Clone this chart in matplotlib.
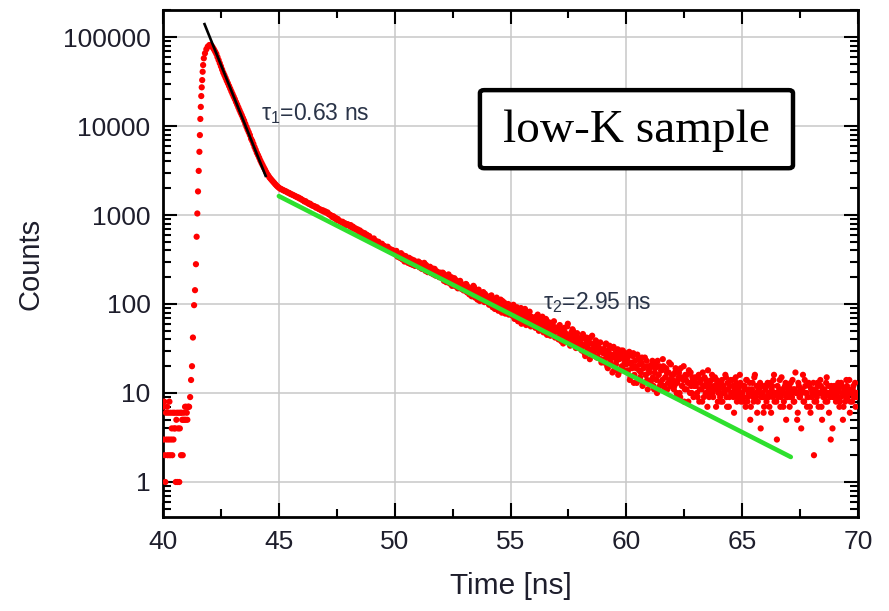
import numpy as np
import matplotlib
matplotlib.use("Agg")
import matplotlib.pyplot as plt
from matplotlib.patches import FancyBboxPatch
from matplotlib.ticker import LogLocator, MultipleLocator, NullFormatter, FixedLocator, FixedFormatter

# fonts: Arial-like sans for axes, Times-like serif for the sample box
plt.rcParams['font.family'] = ['Liberation Sans', 'DejaVu Sans']
plt.rcParams['mathtext.fontset'] = 'custom'
plt.rcParams['mathtext.rm'] = 'Liberation Sans'
plt.rcParams['mathtext.it'] = 'Liberation Sans'

# ---------------- data ----------------
# background before the laser pulse (counts are integers)
base_t = [40.000, 40.025, 40.050, 40.075, 40.100, 40.125, 40.150, 40.175, 40.200, 40.225,
          40.250, 40.275, 40.300, 40.325, 40.350, 40.375, 40.400, 40.425, 40.450, 40.475,
          40.500, 40.525, 40.550, 40.575, 40.600, 40.625, 40.650, 40.675, 40.700, 40.725,
          40.750, 40.775, 40.800, 40.825, 40.850, 40.875, 40.900, 40.925, 40.950, 40.975,
          41.000, 41.025, 41.050, 41.075, 41.100, 41.125]
base_counts = [7, 3, 8, 2, 1, 6, 3, 7, 2, 6,
               3, 8, 2, 6, 3, 4, 2, 6, 3, 4,
               6, 4, 1, 5, 6, 1, 4, 6, 1, 4,
               6, 2, 6, 5, 2, 5, 6, 5, 7, 5,
               7, 6, 5, 7, 7, 7]

# rising edge of the pulse
rise_t = [41.17, 41.21, 41.25, 41.29, 41.34, 41.38, 41.42, 41.45, 41.48, 41.51, 41.54, 41.57,
          41.59, 41.61, 41.63, 41.65, 41.67, 41.69, 41.71, 41.73, 41.76, 41.81, 41.87, 41.93]
rise_counts = [9, 14, 20, 42, 97, 143, 280, 570, 1040, 1840, 3130, 5130,
               7900, 12000, 16400, 21700, 27200, 32800, 40700, 48400, 57600, 65600, 72800, 78000]

# decay, one row per ns (42.00 ... 69.95 in 0.05 ns channels) + last channel at 70.00
channel_ns = 0.05
decay_start = 42.0
decay_counts = [
    81300, 80500, 79400, 76000, 72400, 68500, 64600, 59500, 55000, 50700, 46800, 43100, 39800, 37200, 34700, 32300, 30200, 28200, 26300, 24500,
    22900, 21400, 20000, 18600, 17400, 16200, 15100, 14100, 13200, 12300, 11500, 10600, 9800, 9100, 8500, 7900, 7200, 6800, 6300, 5800,
    5400, 5000, 4700, 4400, 4100, 3850, 3630, 3420, 3240, 3050, 2880, 2760, 2630, 2540, 2450, 2370, 2290, 2210, 2140, 2080,
    2030, 1980, 1960, 1920, 1900, 1860, 1850, 1810, 1780, 1770, 1720, 1710, 1680, 1660, 1630, 1610, 1580, 1570, 1530, 1520,
    1480, 1460, 1420, 1430, 1380, 1370, 1330, 1340, 1290, 1280, 1260, 1250, 1210, 1220, 1180, 1160, 1150, 1120, 1130, 1090,
    1100, 1060, 1070, 1020, 1010, 990, 950, 970, 920, 930, 880, 900, 860, 850, 830, 840, 800, 810, 770, 790,
    780, 750, 770, 720, 740, 700, 710, 680, 690, 650, 670, 630, 640, 610, 625, 590, 600, 570, 580, 550,
    540, 520, 545, 500, 510, 485, 500, 470, 455, 475, 440, 450, 430, 420, 440, 400, 415, 395, 405, 380,
    385, 360, 375, 350, 345, 365, 330, 340, 320, 335, 310, 325, 300, 315, 295, 305, 285, 300, 280, 290,
    282, 265, 290, 255, 270, 260, 248, 275, 240, 255, 235, 245, 230, 250, 222, 236, 215, 228, 210, 220,
    210, 195, 220, 190, 205, 185, 198, 178, 190, 200, 172, 180, 168, 185, 162, 175, 158, 170, 152, 165,
    155, 142, 165, 138, 150, 132, 145, 128, 160, 136, 125, 140, 120, 132, 118, 128, 122, 112, 130, 115,
    115, 105, 122, 100, 112, 98, 108, 95, 118, 92, 102, 88, 98, 108, 86, 95, 82, 92, 100, 85,
    85, 78, 95, 72, 88, 70, 82, 76, 68, 90, 72, 66, 80, 70, 62, 76, 68, 58, 72, 65,
    65, 58, 72, 55, 68, 60, 52, 70, 56, 62, 50, 66, 54, 48, 60, 52, 58, 46, 55, 50,
    49, 42, 55, 45, 38, 52, 44, 48, 40, 56, 42, 36, 46, 41, 50, 38, 44, 34, 42, 38,
    37, 31, 44, 34, 28, 40, 33, 36, 29, 42, 31, 27, 35, 30, 38, 26, 33, 29, 24, 31,
    28, 22, 35, 26, 19, 31, 24, 27, 17, 33, 25, 21, 29, 16, 24, 27, 20, 30, 18, 23,
    21, 17, 26, 14, 22, 19, 28, 16, 20, 13, 24, 18, 15, 22, 12, 19, 25, 16, 14, 20,
    17, 13, 21, 15, 11, 19, 14, 23, 16, 12, 18, 14, 20, 11, 15, 17, 13, 22, 12, 16,
    14, 11, 17, 9, 13, 15, 10, 19, 12, 14, 8, 16, 11, 13, 18, 10, 12, 15, 9, 13,
    12, 10, 15, 8, 13, 11, 17, 9, 12, 14, 7, 11, 13, 10, 16, 9, 12, 11, 14, 8,
    11, 9, 13, 8, 12, 10, 15, 7, 11, 9, 14, 10, 12, 6, 10, 13, 9, 11, 16, 8,
    10, 8, 12, 7, 14, 9, 11, 5, 10, 13, 8, 16, 9, 6, 11, 10, 4, 12, 9, 7,
    11, 8, 13, 9, 10, 6, 12, 14, 8, 10, 3, 9, 11, 7, 15, 10, 8, 12, 5, 9,
    10, 7, 13, 9, 11, 8, 17, 10, 6, 12, 9, 4, 11, 8, 14, 10, 7, 9, 12, 6,
    9, 11, 2, 10, 8, 13, 7, 10, 12, 5, 9, 11, 8, 15, 10, 6, 9, 12, 4, 10,
    11, 8, 10, 13, 7, 9, 12, 5, 10, 8, 14, 9, 11, 6, 10, 8, 12, 9, 7, 10,
    9,
]
decay_t = decay_start + channel_ns * np.arange(len(decay_counts))

# the in-between channels of the noisy part (50.025 ... 69.975), one row per ns
tail_start = 50.025
tail_counts = [
    370, 395, 340, 360, 330, 372, 318, 352, 300, 345, 305, 290, 330, 282, 318, 275, 310, 268, 298, 285,
    300, 258, 280, 248, 262, 290, 236, 268, 228, 250, 262, 222, 240, 215, 248, 208, 232, 218, 200, 225,
    200, 225, 182, 210, 176, 195, 215, 170, 188, 160, 182, 195, 158, 175, 150, 170, 182, 148, 160, 142,
    150, 168, 135, 155, 128, 148, 122, 140, 155, 118, 135, 112, 145, 108, 128, 120, 136, 105, 122, 110,
    120, 98, 112, 125, 92, 108, 88, 115, 96, 84, 105, 112, 80, 96, 104, 78, 90, 98, 76, 88,
    90, 74, 98, 68, 84, 92, 64, 78, 86, 60, 80, 70, 88, 58, 74, 66, 82, 56, 70, 62,
    70, 54, 62, 76, 50, 64, 58, 72, 48, 60, 68, 45, 56, 62, 44, 58, 52, 64, 42, 54,
    52, 40, 58, 44, 50, 36, 54, 46, 39, 60, 43, 34, 48, 52, 37, 45, 32, 47, 40, 35,
    40, 30, 46, 35, 26, 42, 32, 38, 24, 36, 44, 28, 33, 39, 25, 34, 30, 37, 22, 29,
    31, 24, 36, 20, 29, 34, 22, 26, 32, 18, 28, 23, 31, 17, 26, 30, 19, 25, 22, 28,
    24, 18, 29, 15, 21, 26, 13, 23, 19, 27, 14, 21, 17, 25, 13, 20, 16, 23, 11, 18,
    19, 14, 23, 12, 17, 21, 10, 16, 20, 13, 18, 24, 12, 15, 19, 11, 17, 14, 21, 13,
    16, 12, 19, 10, 14, 17, 9, 15, 12, 20, 11, 14, 16, 8, 13, 17, 10, 14, 12, 15,
    13, 9, 16, 11, 14, 8, 12, 15, 10, 13, 18, 9, 12, 14, 10, 11, 15, 7, 13, 10,
    12, 8, 14, 10, 11, 16, 9, 13, 7, 12, 10, 14, 9, 11, 15, 8, 12, 10, 13, 9,
    12, 9, 11, 14, 8, 10, 13, 7, 11, 9, 15, 10, 12, 8, 11, 13, 9, 10, 6, 12,
    9, 12, 10, 7, 13, 11, 9, 16, 10, 8, 12, 10, 14, 9, 11, 7, 10, 13, 9, 11,
    12, 9, 10, 14, 8, 11, 10, 5, 13, 9, 11, 10, 16, 8, 12, 10, 9, 13, 7, 11,
    10, 13, 8, 11, 9, 12, 10, 14, 7, 11, 10, 9, 13, 8, 12, 10, 3, 11, 9, 12,
    10, 12, 9, 11, 8, 13, 10, 7, 11, 9, 12, 10, 14, 8, 10, 11, 9, 13, 10, 9,
]
tail_t = tail_start + channel_ns * np.arange(len(tail_counts))

# fitted exponentials (end points)
fit1_t = [41.77, 44.45]
fit1_counts = [144000, 2670]
fit2_t = [45.0, 67.1]
fit2_counts = [1630, 1.91]

tau1_label = r"τ$_1$=0.63 ns"
tau2_label = r"τ$_2$=2.95 ns"
sample_label = "low-K sample"

x_ticks = [40, 45, 50, 55, 60, 65, 70]
y_ticks = [1, 10, 100, 1000, 10000, 100000]
y_ticklabels = ["1", "10", "100", "1000", "10000", "100000"]

# ---------------- figure ----------------
fig = plt.figure(figsize=(8.89, 6.11), dpi=100)
ax = fig.add_axes([0.1834, 0.1538, 0.7817, 0.8298])

t_all = np.concatenate([base_t, rise_t, decay_t, tail_t])
c_all = np.concatenate([base_counts, rise_counts, decay_counts, tail_counts])
ax.scatter(t_all, c_all, s=20, color='#ff0000', edgecolors='none', zorder=3)

ax.plot(fit1_t, fit1_counts, color='black', lw=1.9, solid_capstyle='butt', zorder=4)
ax.plot(fit2_t, fit2_counts, color='#2ee02e', lw=3.3, solid_capstyle='round', zorder=4)

ax.set_yscale('log')
ax.set_xlim(40, 70)
ax.set_ylim(0.404, 2.01e5)

ax.xaxis.set_major_locator(FixedLocator(x_ticks))
ax.xaxis.set_minor_locator(MultipleLocator(2.5))
ax.yaxis.set_major_locator(FixedLocator(y_ticks))
ax.yaxis.set_major_formatter(FixedFormatter(y_ticklabels))
ax.yaxis.set_minor_locator(LogLocator(base=10, subs=np.arange(2, 10)))
ax.yaxis.set_minor_formatter(NullFormatter())

ax.grid(True, which='major', color='#c8c8c8', lw=1.1, zorder=0)
ax.set_axisbelow(True)

txt_col = '#1e1e2c'
ax.tick_params(which='both', direction='in', top=True, right=True, width=1.5, colors='black',
               labelcolor=txt_col, labelsize=19)
ax.tick_params(which='major', length=10, pad=9)
ax.tick_params(which='minor', length=5.5)
for sp in ax.spines.values():
    sp.set_linewidth(2.0)

ax.set_xlabel("Time [ns]", fontsize=21.5, color=txt_col, labelpad=13)
ax.set_ylabel("Counts", fontsize=21, color=txt_col, labelpad=13)

# lifetime annotations
ax.text(44.25, 10**4.145, tau1_label, fontsize=16.5, color='#2a3448', ha='left', va='center', zorder=5)
ax.text(56.4, 10**2.02, tau2_label, fontsize=16.5, color='#2a3448', ha='left', va='center', zorder=5)

# sample box
box = FancyBboxPatch((0.456, 0.688), 0.4505, 0.154, boxstyle='round,pad=0,rounding_size=0.006',
                     transform=ax.transAxes, facecolor='white', edgecolor='black', lw=3.2, zorder=6)
ax.add_patch(box)
ax.text(0.681, 0.762, sample_label, transform=ax.transAxes, fontsize=34,
        family=['Liberation Serif', 'DejaVu Serif'], ha='center', va='center', zorder=7)

fig.savefig("out.png", dpi=100)
